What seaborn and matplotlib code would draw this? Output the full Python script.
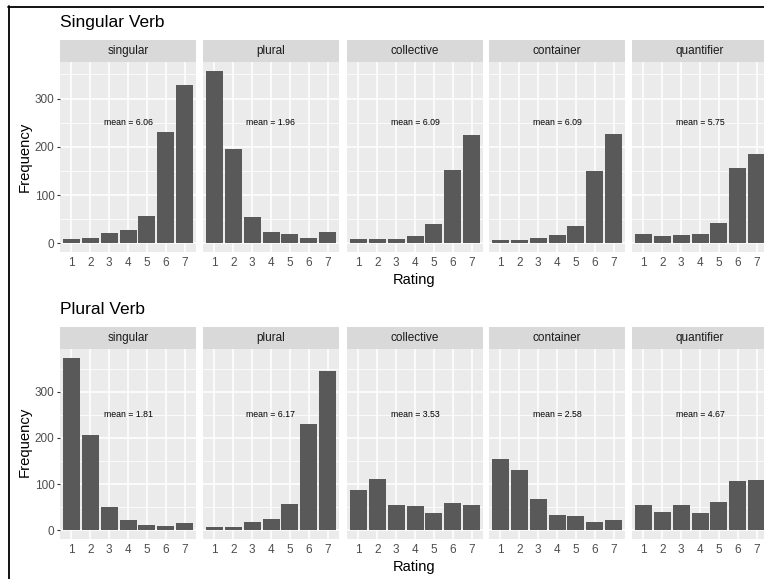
import matplotlib
matplotlib.use("Agg")
import matplotlib.pyplot as plt
from matplotlib.lines import Line2D
from matplotlib.ticker import FixedLocator
import seaborn as sns
import pandas as pd

# ---------------- data ----------------
ratings = [1, 2, 3, 4, 5, 6, 7]
categories = ["singular", "plural", "collective", "container", "quantifier"]

# Singular Verb row
sv_singular = [10, 12, 22, 28, 57, 231, 328]
sv_plural = [358, 196, 55, 23, 19, 12, 23]
sv_collective = [9, 9, 10, 16, 41, 152, 224]
sv_container = [8, 7, 12, 17, 36, 151, 226]
sv_quantifier = [19, 16, 18, 20, 43, 156, 185]
sv_means = ["6.06", "1.96", "6.09", "6.09", "5.75"]

# Plural Verb row
pv_singular = [374, 207, 51, 22, 12, 10, 15]
pv_plural = [8, 7, 19, 24, 57, 230, 346]
pv_collective = [88, 112, 56, 53, 38, 60, 56]
pv_container = [154, 131, 68, 34, 32, 19, 23]
pv_quantifier = [55, 39, 55, 37, 62, 106, 110]
pv_means = ["1.81", "6.17", "3.53", "2.58", "4.67"]

row_titles = ["Singular Verb", "Plural Verb"]
mean_label_pos = (4, 250)

# build long table
records = []
for verb, series in [("Singular Verb", [sv_singular, sv_plural, sv_collective, sv_container, sv_quantifier]),
                     ("Plural Verb", [pv_singular, pv_plural, pv_collective, pv_container, pv_quantifier])]:
    for cat, vals in zip(categories, series):
        for r, v in zip(ratings, vals):
            records.append({"Verb": verb, "Noun": cat, "Rating": r, "Frequency": v})
df = pd.DataFrame(records)
means = {"Singular Verb": sv_means, "Plural Verb": pv_means}

# ---------------- style ----------------
sns.set_theme(style="white")
plt.rcParams["font.family"] = ["Liberation Sans", "DejaVu Sans"]

W, H = 764, 579
fig = plt.figure(figsize=(W / 100, H / 100), dpi=100)
fig.patch.set_facecolor("white")


def rect(x0, y0, w, h):
    return [x0 / W, 1 - (y0 + h) / H, w / W, h / H]


lefts = [60, 203, 347, 489, 632]
pw = 136
layout = [
    dict(verb="Singular Verb", title_y=23, strip_top=40, panel_top=62, ph=190,
         freq_y=157, rating_y=280),
    dict(verb="Plural Verb", title_y=310, strip_top=327, panel_top=349, ph=190,
         freq_y=442, rating_y=567),
]

for row in layout:
    verb = row["verb"]
    sub_row = df[df["Verb"] == verb]
    ymax = sub_row["Frequency"].max()
    ylim = (-0.05 * ymax, ymax * 1.05)
    for j, cat in enumerate(categories):
        sub = sub_row[sub_row["Noun"] == cat]
        ax = fig.add_axes(rect(lefts[j], row["panel_top"], pw, row["ph"]))
        sns.barplot(data=sub, x="Rating", y="Frequency", native_scale=True,
                    color="#595959", saturation=1, width=0.9, errorbar=None,
                    linewidth=0, ax=ax)
        ax.set_facecolor("#EBEBEB")
        ax.set_axisbelow(True)
        ax.set_xlim(0.4, 7.6)
        ax.set_ylim(*ylim)
        ax.set_xticks(ratings)
        ax.set_xticklabels([str(r) for r in ratings])
        ax.set_yticks([0, 100, 200, 300])
        ax.yaxis.set_minor_locator(FixedLocator([50, 150, 250, 350]))
        ax.grid(which="major", color="white", lw=1.1)
        ax.grid(which="minor", axis="y", color="white", lw=0.55)
        for s in ax.spines.values():
            s.set_visible(False)
        ax.set_xlabel("")
        ax.set_ylabel("")
        ax.tick_params(axis="x", which="major", length=2.4, width=0.8, color="#333333",
                       labelcolor="#4D4D4D", labelsize=8.5, pad=1.5)
        ax.tick_params(axis="y", which="minor", length=0)
        if j == 0:
            ax.tick_params(axis="y", which="major", length=2.4, width=0.8, color="#333333",
                           labelcolor="#4D4D4D", labelsize=8.5, pad=1.5, left=True)
        else:
            ax.tick_params(axis="y", which="major", length=0, labelleft=False)
        ax.text(mean_label_pos[0], mean_label_pos[1], f"mean = {means[verb][j]}",
                ha="center", va="center", fontsize=6.3, color="black")
        # strip
        sax = fig.add_axes(rect(lefts[j], row["strip_top"], pw, row["panel_top"] - row["strip_top"]))
        sax.set_facecolor("#D9D9D9")
        sax.set_xticks([])
        sax.set_yticks([])
        for s in sax.spines.values():
            s.set_visible(False)
        sax.text(0.5, 0.5, cat, ha="center", va="center", fontsize=8.5,
                 color="#1A1A1A", transform=sax.transAxes)

    fig.text(60 / W, 1 - row["title_y"] / H, verb, ha="left", va="center",
             fontsize=12.5, color="black")
    fig.text(25 / W, 1 - row["freq_y"] / H, "Frequency", rotation=90,
             ha="center", va="center", fontsize=10.7, color="black")
    fig.text(414 / W, 1 - row["rating_y"] / H, "Rating", ha="center", va="center",
             fontsize=10.5, color="black")

# frame lines (top and left)
fig.add_artist(Line2D([8.5 / W, 8.5 / W], [0, 1 - 6 / H], color="black", lw=1.3,
                      transform=fig.transFigure))
fig.add_artist(Line2D([8 / W, 1], [1 - 6.8 / H, 1 - 6.8 / H], color="black", lw=1.3,
                      transform=fig.transFigure))

fig.savefig("out.png", dpi=100)
